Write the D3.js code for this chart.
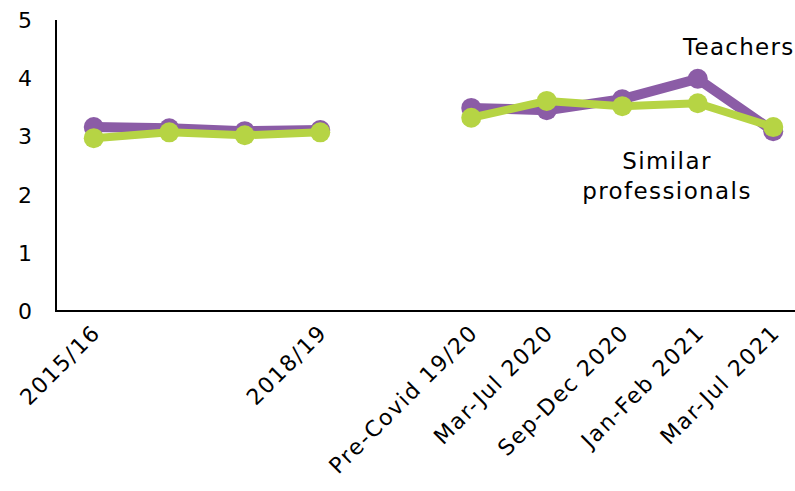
<!DOCTYPE html>
<html><head><meta charset="utf-8">
<script src="https://cdn.jsdelivr.net/npm/d3@7"></script>
<style>body{margin:0;background:#fff;}svg{display:block;font-family:"DejaVu Sans",sans-serif;}</style>
</head><body>
<svg id="c" width="795" height="491"></svg>
<script>
const categories = ["2015/16","2016/17","2017/18","2018/19","gap","Pre-Covid 19/20","Mar-Jul 2020","Sep-Dec 2020","Jan-Feb 2021","Mar-Jul 2021"];
const tickLabels = ["2015/16","","","2018/19","","Pre-Covid 19/20","Mar-Jul 2020","Sep-Dec 2020","Jan-Feb 2021","Mar-Jul 2021"];
const teachers = [3.16,3.14,3.09,3.11,null,3.49,3.45,3.64,3.99,3.09];
const similar  = [2.97,3.07,3.02,3.07,null,3.32,3.61,3.52,3.57,3.16];
const yTicks = [0,1,2,3,4,5];

const svg = d3.select("#c");
const m = {l:56, t:20, b:311, r:811};
const x = d3.scaleBand().domain(categories).range([m.l, m.r]);
const y = d3.scaleLinear().domain([0,5]).range([m.b, m.t]);
const cx = c => x(c) + x.bandwidth()/2;

// axes
svg.append("line").attr("x1",m.l).attr("x2",m.l).attr("y1",m.t).attr("y2",m.b).attr("stroke","#000").attr("stroke-width",2);
svg.append("line").attr("x1",m.l-1).attr("x2",795).attr("y1",m.b).attr("y2",m.b).attr("stroke","#000").attr("stroke-width",2);

svg.selectAll(".yt").data(yTicks).enter().append("text")
  .attr("x",25).attr("y",d=>y(d)).attr("dy","0.36em").attr("text-anchor","middle")
  .attr("font-size",22).attr("fill","#000").text(d=>d);

svg.selectAll(".xt").data(categories).enter().append("text")
  .attr("transform",d=>`translate(${cx(d)+8},${m.b+23}) rotate(-45)`)
  .attr("text-anchor","end").attr("font-size",22).attr("letter-spacing",1.6).attr("fill","#000")
  .text((d,i)=>tickLabels[i]);

function series(vals, color, w, r){
  const pts = categories.map((c,i)=>({c, v:vals[i]}));
  const line = d3.line().defined(d=>d.v!=null).x(d=>cx(d.c)).y(d=>y(d.v));
  svg.append("path").datum(pts).attr("d",line).attr("fill","none")
    .attr("stroke",color).attr("stroke-width",w).attr("stroke-linejoin","round");
  svg.selectAll(null).data(pts.filter(d=>d.v!=null)).enter().append("circle")
    .attr("cx",d=>cx(d.c)).attr("cy",d=>y(d.v)).attr("r",r).attr("fill",color);
}
series(teachers, "#8b5ca6", 10, 10);
series(similar, "#b6d444", 8, 10);

svg.append("text").attr("x",683).attr("y",55).attr("font-size",23).attr("letter-spacing",1.3).attr("fill","#000").text("Teachers");
svg.append("text").attr("x",667).attr("y",169).attr("text-anchor","middle").attr("font-size",23).attr("letter-spacing",1.4).attr("fill","#000").text("Similar");
svg.append("text").attr("x",667).attr("y",199).attr("text-anchor","middle").attr("font-size",23).attr("letter-spacing",1.4).attr("fill","#000").text("professionals");
</script>
</body></html>
